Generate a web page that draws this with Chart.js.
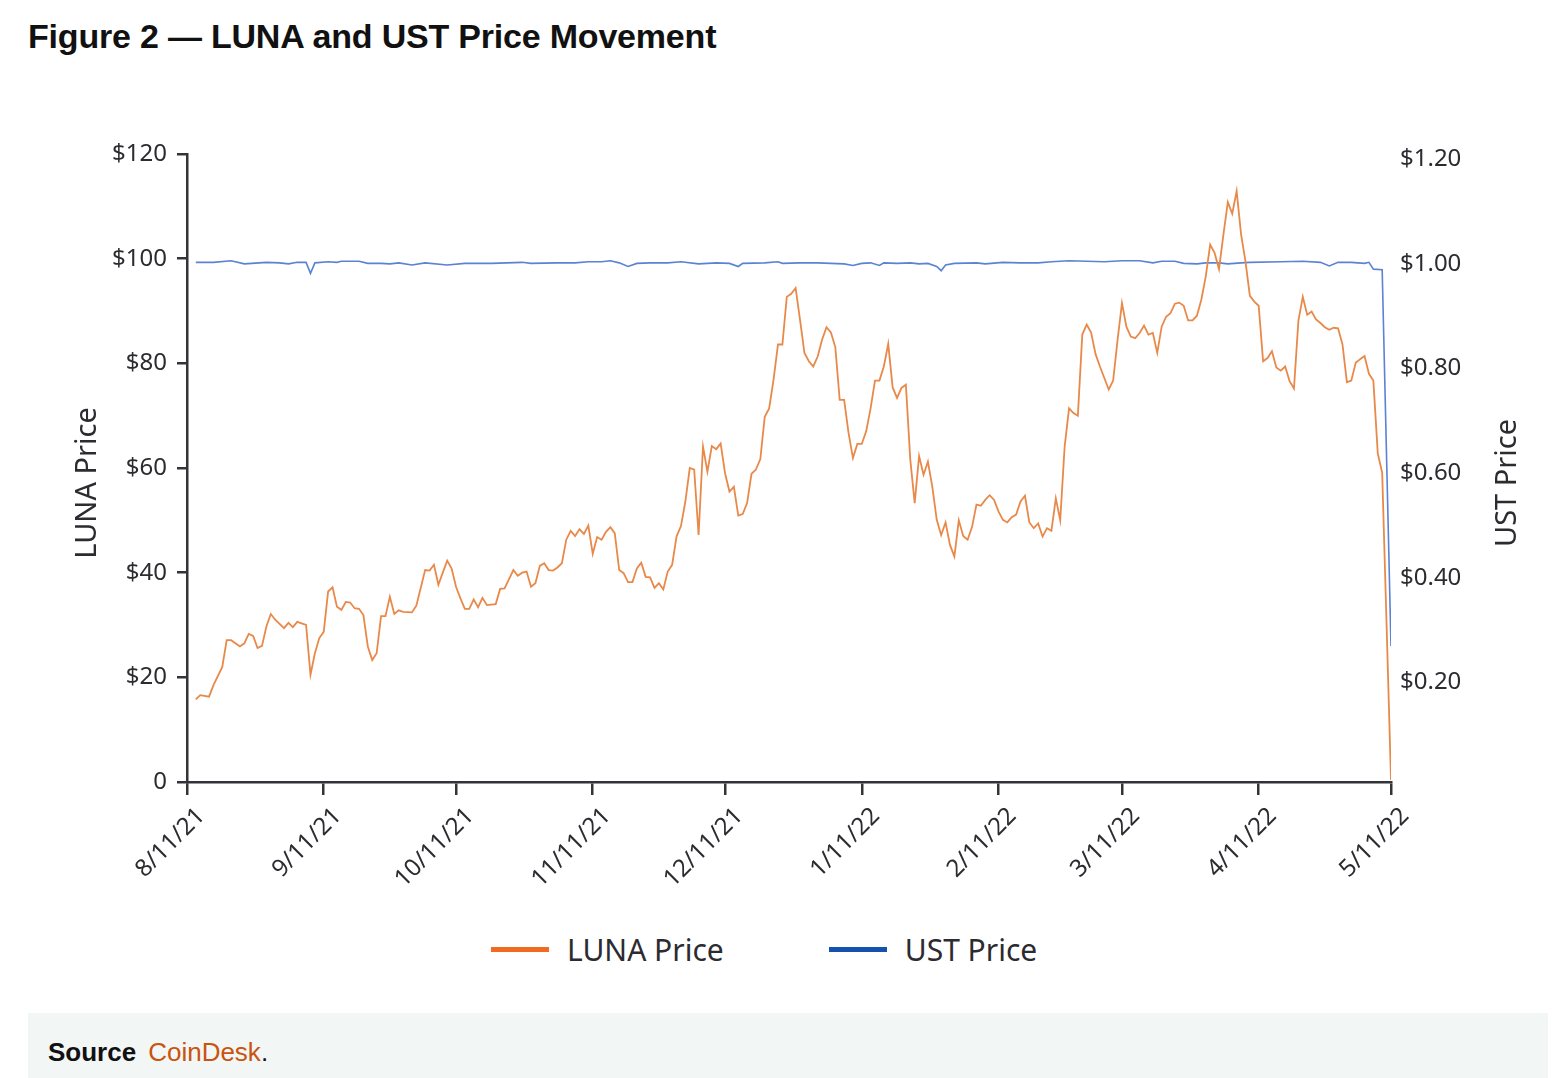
<!DOCTYPE html>
<html>
<head>
<meta charset="utf-8">
<script src="https://cdn.jsdelivr.net/npm/chart.js@4.4.1/dist/chart.umd.min.js"></script>
<style>
  body{margin:0;background:#fff;width:1552px;height:1078px;position:relative;overflow:hidden;font-family:"Noto Sans",sans-serif;}
  #title{position:absolute;left:28px;top:17px;font:bold 34px "Liberation Sans",sans-serif;color:#111;letter-spacing:-0.2px;white-space:nowrap;}
  #wrap{position:absolute;left:0;top:120px;width:1552px;height:780px;}
  #legend{position:absolute;left:491px;top:928px;height:42px;display:flex;align-items:center;font:30px "Noto Sans",sans-serif;color:#2b2b30;}
  #legend .item{display:flex;align-items:center;margin-right:105px;}
  #legend .mark{width:58px;height:5px;margin-right:18px;}
  #source{position:absolute;left:28px;top:1013px;width:1520px;height:65px;background:#f2f7f5;font:26px "Liberation Sans",sans-serif;color:#111;}
  #source span{position:absolute;left:20px;top:24px;white-space:nowrap;}
  #source b{margin-right:12px;}
  #source a{color:#c9530f;text-decoration:none;}
</style>
</head>
<body>
<div id="title">Figure 2 — LUNA and UST Price Movement</div>
<div id="wrap"><canvas id="chart" width="1552" height="780"></canvas></div>
<div id="legend"></div>
<div id="source"><span><b>Source</b><a>CoinDesk</a>.</span></div>
<script>
// x axis: days since 8/11/21
const tickDays   = [0, 31, 61, 92, 122, 153, 184, 212, 243, 273];
const tickLabels = ['8/11/21','9/11/21','10/11/21','11/11/21','12/11/21','1/11/22','2/11/22','3/11/22','4/11/22','5/11/22'];

const lunaDays = [
  2,3,5,6,8,9,10,12,13,14,15,16,17,18,19,20,22,23,24,25,27,28,29,30,31,32,33,34,35,36,37,38,39,40,
  41,42,43,44,45,46,47,48,49,51,52,54,55,56,57,58,59,60,61,62,63,64,65,66,67,68,70,71,72,73,74,75,
  76,77,78,79,80,81,82,83,84,85,86,87,88,89,90,91,92,93,94,95,96,97,98,99,100,101,102,103,104,105,
  106,107,108,109,110,111,112,113,114,115,116,117,118,119,120,121,122,123,124,125,126,127,128,129,
  130,131,132,133,134,135,136,137,138,139,140,141,142,143,144,145,146,147,148,149,150,151,152,153,
  154,155,156,157,158,159,160,161,162,163,164,165,166,167,168,169,170,171,172,173,174,175,176,177,
  178,179,180,181,182,183,184,185,186,187,188,189,190,191,192,193,194,195,196,197,198,199,200,201,
  202,203,204,205,206,207,208,209,210,211,212,213,214,215,216,217,218,219,220,221,222,223,224,225,
  226,227,228,229,230,231,232,233,234,235,236,237,238,239,240,241,242,243,244,245,246,247,248,249,
  250,251,252,253,254,255,256,257,258,259,260,261,262,263,264,265,266,267,268,269,270,271,272,273
];
const lunaPrice = [
  15.8,16.6,16.3,18.5,22.0,27.1,27.1,25.9,26.5,28.3,27.9,25.6,26.0,29.7,32.1,31.0,29.4,30.4,29.6,30.6,30.0,20.5,24.6,27.5,28.7,36.4,37.2,33.5,32.9,34.4,34.3,33.2,33.1,31.9,
  25.9,23.3,24.6,31.7,31.7,35.4,32.1,32.8,32.5,32.4,33.7,40.5,40.4,41.5,37.7,40.0,42.3,40.8,37.3,35.1,33.1,33.1,34.9,33.4,35.2,33.8,34.0,36.9,37.0,38.7,40.5,39.4,
  40.0,40.2,37.3,38.0,41.3,41.8,40.5,40.4,41.0,41.8,46.3,48.0,47.0,48.3,47.4,49.0,43.6,46.8,46.3,47.8,48.7,47.5,40.5,39.9,38.2,38.2,40.8,41.9,39.2,39.1,
  37.1,38.0,36.8,40.2,41.5,46.9,48.9,53.6,60.0,59.7,47.2,64.1,59.3,64.2,63.6,64.7,59.0,55.5,56.4,50.9,51.2,53.3,58.9,59.7,
  61.7,69.8,71.4,76.9,83.6,83.6,92.7,93.3,94.4,88.3,82.0,80.4,79.4,81.3,84.5,86.9,85.9,83.1,73.0,73.0,66.7,61.9,64.6,64.6,
  67.0,71.4,76.7,76.7,79.4,83.7,75.4,73.4,75.3,75.9,61.6,53.3,62.3,58.7,61.2,56.4,50.1,47.2,49.6,45.3,43.1,50.0,47.0,46.3,
  48.7,53.0,52.8,53.9,54.8,53.9,51.7,50.1,49.6,50.6,51.1,53.6,54.7,49.6,48.5,49.4,46.9,48.5,48.0,54.2,50.0,64.1,71.4,70.5,
  70.0,85.5,87.4,85.9,81.8,79.4,77.2,75.0,76.7,84.5,91.5,87.0,85.1,84.8,85.8,87.2,85.5,85.8,82.0,87.0,88.9,89.6,91.4,91.6,
  91.0,88.2,88.2,89.1,92.2,96.6,102.7,101.1,98.0,104.6,110.8,108.6,112.9,104.7,99.5,92.9,91.8,91.0,80.4,81.0,82.3,79.2,78.6,79.4,
  76.6,75.2,88.1,92.7,89.3,89.9,88.4,87.7,86.9,86.4,86.8,86.7,83.6,76.4,76.7,80.1,80.8,81.4,78.0,76.7,62.8,59.1,30.0,0.4
];

const ustDays = [
  2,6,10,13,18,21,23,25,27,28,29,32,34,35,39,41,44,46,48,51,54,59,63,69,76,78,84,88,91,94,96,98,100,102,
  105,109,112,116,120,123,125,126,131,134,135,139,143,146,149,151,153,155,157,158,161,164,166,168,170,171,
  172,174,179,181,185,189,193,196,200,204,208,212,216,219,221,224,226,229,231,234,236,239,241,248,253,257,
  259,261,264,267,268,269,271,273
];
const ustPrice = [
  0.993,0.993,0.996,0.990,0.993,0.992,0.990,0.993,0.993,0.972,0.992,0.994,0.993,0.995,0.995,0.991,0.991,0.990,0.992,0.988,0.992,0.988,0.991,0.991,0.993,0.991,0.992,0.992,0.994,0.994,0.996,0.992,0.985,0.991,
  0.992,0.992,0.994,0.990,0.992,0.991,0.985,0.991,0.992,0.994,0.991,0.992,0.992,0.991,0.990,0.987,0.991,0.992,0.987,0.992,0.991,0.992,0.990,0.991,0.985,0.977,
  0.988,0.991,0.992,0.990,0.993,0.992,0.992,0.994,0.996,0.995,0.994,0.996,0.996,0.992,0.995,0.995,0.991,0.990,0.992,0.992,0.990,0.992,0.993,0.994,0.995,0.993,
  0.986,0.993,0.993,0.991,0.993,0.980,0.979,0.260
];

const seriesNames   = ['LUNA Price', 'UST Price'];
const lineColors    = ['#e8894a', '#5b82d3'];
const legendColors  = ['#f26a21', '#1452ae'];
const axisTitles    = ['LUNA Price', 'UST Price'];

const inkColor = '#2b2b30';
const axisColor = '#333338';

const titlePlugin = {
  id: 'sideTitles',
  afterDraw(chart) {
    const {ctx, chartArea} = chart;
    const cy = (chartArea.top + chartArea.bottom) / 2 + 15;
    ctx.save();
    ctx.font = '29px "Noto Sans", sans-serif';
    ctx.fillStyle = inkColor;
    ctx.textAlign = 'center';
    ctx.textBaseline = 'middle';
    [[chartArea.left - 99, axisTitles[0]], [chartArea.right + 117, axisTitles[1]]].forEach(function(t){
      ctx.save();
      ctx.translate(t[0], cy);
      ctx.rotate(-Math.PI / 2);
      ctx.fillText(t[1], 0, 0);
      ctx.restore();
    });
    ctx.restore();
  }
};

const chart = new Chart(document.getElementById('chart'), {
  type: 'line',
  data: {
    datasets: [
      {
        label: seriesNames[0],
        data: lunaDays.map((d, i) => ({x: d, y: lunaPrice[i]})),
        borderColor: lineColors[0],
        borderWidth: 1.8,
        pointRadius: 0,
        tension: 0,
        yAxisID: 'y'
      },
      {
        label: seriesNames[1],
        data: ustDays.map((d, i) => ({x: d, y: ustPrice[i]})),
        borderColor: lineColors[1],
        borderWidth: 1.6,
        pointRadius: 0,
        tension: 0,
        yAxisID: 'y1'
      }
    ]
  },
  options: {
    responsive: false,
    animation: false,
    layout: {padding: {top: 34, left: 0, right: 0, bottom: 0}},
    plugins: {legend: {display: false}, tooltip: {enabled: false}},
    scales: {
      x: {
        type: 'linear',
        min: 0,
        max: 273,
        afterBuildTicks: s => { s.ticks = tickDays.map(v => ({value: v})); },
        afterFit: s => { s.height = 118; },
        ticks: {
          autoSkip: false,
          minRotation: 45,
          maxRotation: 45,
          padding: 7,
          labelOffset: 14,
          font: {family: '"Noto Sans", sans-serif', size: 24},
          color: inkColor,
          callback: v => tickLabels[tickDays.indexOf(v)]
        },
        grid: {drawOnChartArea: false, tickLength: 13, color: axisColor, lineWidth: 2.5},
        border: {color: axisColor, width: 2.5}
      },
      y: {
        position: 'left',
        min: 0,
        max: 120,
        afterFit: s => { s.width = 187; },
        ticks: {
          stepSize: 20,
          padding: 10,
          font: {family: '"Noto Sans", sans-serif', size: 24},
          color: inkColor,
          callback: v => v === 0 ? '0' : '$' + v
        },
        grid: {drawOnChartArea: false, tickLength: 10, color: axisColor, lineWidth: 2.5},
        border: {color: axisColor, width: 2.5}
      },
      y1: {
        position: 'right',
        min: 0,
        max: 1.2,
        afterFit: s => { s.width = 161; },
        ticks: {
          stepSize: 0.2,
          padding: 9,
          labelOffset: 5,
          font: {family: '"Noto Sans", sans-serif', size: 24},
          color: inkColor,
          callback: v => v < 0.01 ? null : '$' + v.toFixed(2)
        },
        grid: {display: false, drawTicks: false},
        border: {display: false}
      }
    }
  },
  plugins: [titlePlugin]
});

// legend from the chart's datasets
const legendEl = document.getElementById('legend');
chart.data.datasets.forEach(function(ds, i){
  const item = document.createElement('div');
  item.className = 'item';
  item.innerHTML = '<span class="mark" style="background:' + legendColors[i] + '"></span><span>' + ds.label + '</span>';
  legendEl.appendChild(item);
});
</script>
</body>
</html>
